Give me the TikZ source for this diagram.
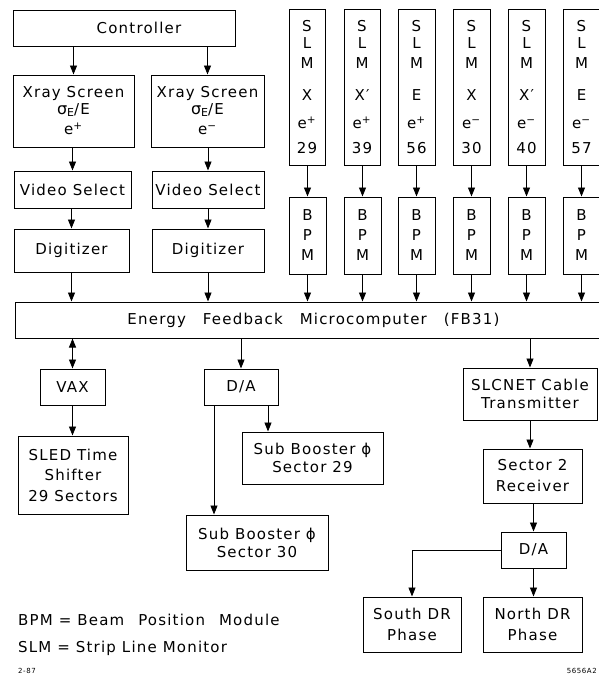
\documentclass[tikz,border=0pt]{standalone}
\usepackage{fontspec}
\setmainfont{DejaVu Sans}[LetterSpace=8]
\usetikzlibrary{arrows.meta}
\newcommand\mybox[7]{\node[box,#6,minimum width={(#4-#2)*1pt},minimum height={(#5-#3)*1pt}] (#1) at ({(#2+#4)/2},{(#3+#5)/2}) {#7};}
\newcommand\sigE{{\fontsize{16}{16}\selectfont σ}\raisebox{-2pt}{\fontsize{11}{11}\selectfont E}/E}
\begin{document}
\begin{tikzpicture}[x=1pt,y=-1pt,
  box/.style={draw,line width=1pt,inner sep=0pt,align=center,font=\fontsize{15}{18}\selectfont},
  arr/.style={-{Triangle[width=7pt,length=9pt]},line width=0.8pt},
  darr/.style={{Triangle[width=7pt,length=9pt]}-{Triangle[width=7pt,length=9pt]},line width=0.8pt},
  lbl/.style={inner sep=0pt,anchor=base west,font=\fontsize{15}{16}\selectfont}]
\useasboundingbox (0,0) rectangle (598,675);
% top left column
\mybox{ctrl}{13}{10}{235}{46}{}{\hspace*{30pt}Controller}
\mybox{xrayL}{13}{75}{134}{147}{font=\fontsize{15}{17}\selectfont}{Xray Screen\\\sigE\\[3pt]e\textsuperscript{+}}
\mybox{xrayR}{151}{75}{264}{147}{font=\fontsize{15}{17}\selectfont}{Xray Screen\\\sigE\\[3pt]e\textsuperscript{−}}
\mybox{vidL}{14}{171}{131}{208}{}{Video Select}
\mybox{vidR}{152}{171}{264}{208}{}{Video Select}
\mybox{digL}{14}{229}{129}{272}{}{Digitizer}
\mybox{digR}{152}{229}{264}{272}{}{Digitizer}
% SLM and BPM columns
\mybox{slm1}{289}{9}{325}{165}{}{S\\[-1pt]L\\[2pt]M\\[14pt]X\\[10pt]e\textsuperscript{+}\\[7pt]29}
\mybox{slm2}{344}{9}{380}{165}{}{S\\[-1pt]L\\[2pt]M\\[14pt]X′\\[10pt]e\textsuperscript{+}\\[7pt]39}
\mybox{slm3}{398}{9}{435}{165}{}{S\\[-1pt]L\\[2pt]M\\[14pt]E\\[10pt]e\textsuperscript{+}\\[7pt]56}
\mybox{slm4}{453}{9}{490}{165}{}{S\\[-1pt]L\\[2pt]M\\[14pt]X\\[10pt]e\textsuperscript{−}\\[7pt]30}
\mybox{slm5}{508}{9}{545}{165}{}{S\\[-1pt]L\\[2pt]M\\[14pt]X′\\[10pt]e\textsuperscript{−}\\[7pt]40}
\mybox{slm6}{563}{9}{600}{165}{}{S\\[-1pt]L\\[2pt]M\\[14pt]E\\[10pt]e\textsuperscript{−}\\[7pt]57}
\foreach \i/\xa in {1/289,2/344,3/398,4/453,5/508,6/563}{
  \mybox{bpm\i}{\xa}{197}{\xa+37}{274}{font=\fontsize{15}{20}\selectfont}{B\\P\\M}
}
% energy box
\mybox{energy}{15}{302}{612}{338}{}{Energy\hspace{11pt} Feedback\hspace{11pt} Microcomputer\hspace{11pt} (FB31)}
% lower left
\mybox{vax}{40}{369}{105}{405}{}{VAX}
\mybox{sled}{18}{436}{128}{514}{font=\fontsize{15}{20.5}\selectfont}{SLED Time\\Shifter\\29 Sectors}
\mybox{da1}{204}{369}{278}{405}{}{D/A}
\mybox{sb29}{242}{432}{383}{484}{}{Sub Booster ϕ\\Sector 29}
\mybox{sb30}{186}{515}{328}{570}{}{Sub Booster ϕ\\Sector 30}
% lower right
\mybox{slc}{463}{368}{597}{420}{}{SLCNET Cable\\Transmitter}
\mybox{sec2}{483}{449}{582}{503}{font=\fontsize{15}{21}\selectfont}{Sector 2\\Receiver}
\mybox{da2}{501}{532}{566}{568}{}{D/A}
\mybox{south}{363}{597}{461}{652}{font=\fontsize{15}{21}\selectfont}{South DR\\Phase}
\mybox{north}{483}{597}{582}{652}{font=\fontsize{15}{21}\selectfont}{North DR\\Phase}
% connectors
\draw[arr] (ctrl.south -| xrayL.north) -- (xrayL.north);
\draw[arr] (ctrl.south -| xrayR.north) -- (xrayR.north);
\draw[arr] (xrayL.south -| vidL.north) -- (vidL.north);
\draw[arr] (xrayR.south -| vidR.north) -- (vidR.north);
\draw[arr] (vidL.south -| digL.north) -- (digL.north);
\draw[arr] (vidR.south -| digR.north) -- (digR.north);
\draw[arr] (digL.south) -- (digL.south |- energy.north);
\draw[arr] (digR.south) -- (digR.south |- energy.north);
\foreach \i in {1,...,6}{
  \draw[arr] (slm\i.south -| bpm\i.north) -- (bpm\i.north);
  \draw[arr] (bpm\i.south) -- (bpm\i.south |- energy.north);
}
\draw[darr] (vax.north |- energy.south) -- (vax.north);
\draw[arr] (vax.south) -- (vax.south |- sled.north);
\draw[arr] (da1.north |- energy.south) -- (da1.north);
\draw[arr] ([xshift=27pt]da1.south) -- ([xshift=27pt]da1.south |- sb29.north);
\draw[arr] ([xshift=-27pt]da1.south) -- ([xshift=-27pt]da1.south |- sb30.north);
\draw[arr] (slc.north |- energy.south) -- (slc.north);
\draw[arr] (slc.south) -- (slc.south |- sec2.north);
\draw[arr] (sec2.south -| da2.north) -- (da2.north);
\draw[arr] (da2.west) -| (south.north);
\draw[arr] (da2.south) -- (da2.south |- north.north);
% legend
\node[lbl] (leg1) at (18,625) {BPM = Beam\hspace{8pt} Position\hspace{8pt} Module};
\node[lbl] (leg2) at (18,652) {SLM = Strip Line Monitor};
\node[lbl,font=\fontsize{7}{8}\selectfont] (date) at (18,673) {2-87};
\node[lbl,anchor=base east,font=\fontsize{7}{8}\selectfont] (code) at (597,673) {5656A2};
\end{tikzpicture}
\end{document}
